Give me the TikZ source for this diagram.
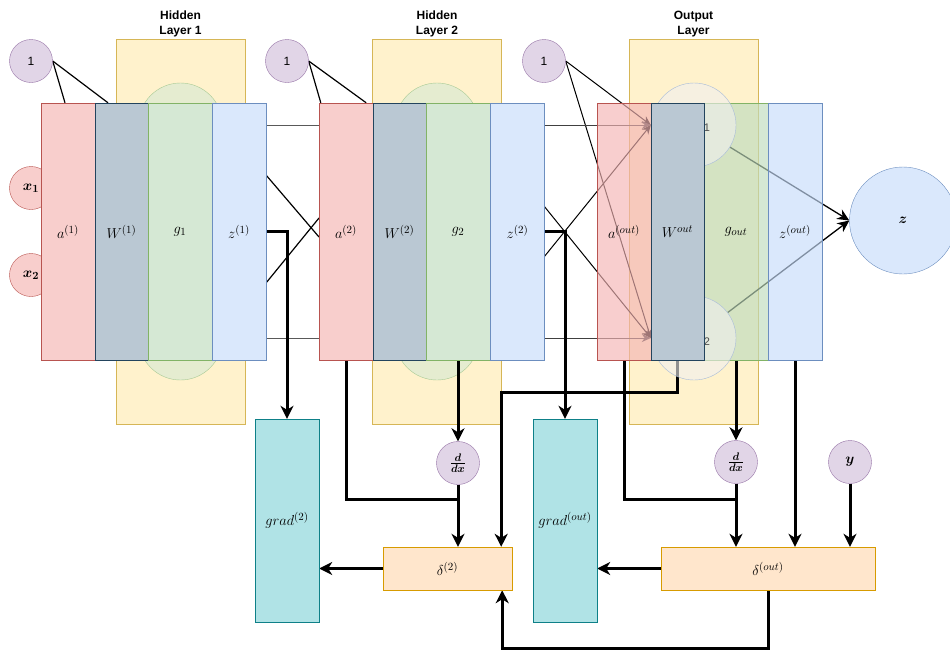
\documentclass[tikz,border=0pt]{standalone}
\usepackage{amsmath, amssymb}
\usepackage{fontspec}
\setmainfont{Liberation Sans}
\usetikzlibrary{positioning,arrows.meta}

\definecolor{redfill}{HTML}{F8CECC}\definecolor{redline}{HTML}{B85450}
\definecolor{wfill}{HTML}{BAC8D3}\definecolor{wline}{HTML}{23445D}
\definecolor{greenfill}{HTML}{D5E8D4}\definecolor{greenline}{HTML}{82B366}
\definecolor{bluefill}{HTML}{DAE8FC}\definecolor{blueline}{HTML}{6C8EBF}
\definecolor{yellowfill}{HTML}{FFF2CC}\definecolor{yellowline}{HTML}{D6B656}
\definecolor{purplefill}{HTML}{E1D5E7}\definecolor{purpleline}{HTML}{9673A6}
\definecolor{tealfill}{HTML}{B0E3E6}\definecolor{tealline}{HTML}{0E8088}
\definecolor{orangefill}{HTML}{FFE6CC}\definecolor{orangeline}{HTML}{D79B00}
% deeper tints, so that the see-through boxes look the same over white
\definecolor{redsee}{HTML}{F4B4B4}
\definecolor{greensee}{HTML}{BEDCBD}
\definecolor{bluesee}{HTML}{C6DCFA}

\newcommand{\lblfont}{\fontsize{15}{17}\selectfont}
\newcommand{\unitfont}{\fontsize{12}{14}\selectfont}
\newcommand{\titlefont}{\fontsize{12}{14.5}\selectfont\bfseries}

\pgfdeclarelayer{background}
\pgfdeclarelayer{wires}
\pgfsetlayers{background,wires,main}

\tikzset{
  layerbg/.style={draw=yellowline, fill=yellowfill, minimum width=129, minimum height=385, inner sep=0},
  hunit/.style={circle, draw=greenline!70, fill=greenfill, fill opacity=0.6, minimum size=84, inner sep=0},
  ounit/.style={circle, draw=blueline!60, fill=gray!12, fill opacity=0.6, minimum size=84, inner sep=0},
  colbox/.style={draw, minimum height=257, inner sep=0, font=\lblfont},
  actbox/.style={colbox, draw=redline, fill=redfill, minimum width=54},
  wbox/.style={colbox, draw=wline, fill=wfill, minimum width=53},
  gbox/.style={colbox, draw=greenline, fill=greenfill, minimum width=64},
  zbox/.style={colbox, draw=blueline, fill=bluefill, minimum width=54},
  seethru/.style={fill opacity=0.65, text opacity=1},
  gradbox/.style={draw=tealline, fill=tealfill, minimum width=64, minimum height=203, inner sep=0, font=\lblfont},
  deltabox/.style={draw=orangeline, fill=orangefill, minimum height=43, inner sep=0, font=\lblfont},
  bias/.style={circle, draw=purpleline, fill=purplefill, minimum size=43, inner sep=0, font=\unitfont},
  inunit/.style={circle, draw=redline, fill=redfill, minimum size=43, inner sep=0, font=\lblfont},
  outunit/.style={circle, draw=blueline, fill=bluefill, minimum size=107, inner sep=0, font=\lblfont},
  unitlabel/.style={font=\fontsize{11}{13}\selectfont, text=black!70, inner sep=0},
  layertitle/.style={align=center, font=\titlefont},
  flowarrow/.style={-{Stealth[length=13pt, width=13pt, inset=4pt]}, line width=3pt},
  flowline/.style={line width=3pt},
  wire/.style={draw=black!65, line width=1pt},
  crosswire/.style={line width=1.2pt},
  thinarrow/.style={-{Stealth[length=9pt, width=8pt]}, line width=1pt},
  outarrow/.style={-{Stealth[length=12pt, width=11pt]}, line width=1.3pt}
}

\begin{document}
\begin{tikzpicture}[x=1pt, y=-1pt]
  \useasboundingbox (0,0) rectangle (950,649);

  % layer backgrounds and hidden units
  \begin{pgfonlayer}{background}
    \node[layerbg] (bg1) at (180.5,231.5) {};
    \node[layerbg] (bg2) at (437,231.5) {};
    \node[layerbg] (bgo) at (693.5,231.5) {};
    \node[hunit] (h11) at (180.5,125) {};
    \node[hunit] (h12) at (180.5,338) {};
    \node[hunit] (h21) at (437,125) {};
    \node[hunit] (h22) at (437,338) {};
  \end{pgfonlayer}

  \node[layertitle] (t1) at (180.5,24) {Hidden\\Layer 1};
  \node[layertitle] (t2) at (437,24) {Hidden\\Layer 2};
  \node[layertitle] (to) at (693.5,24) {Output\\Layer};

  % inputs
  \node[bias] (b1) at (31,61) {1};
  \node[inunit] (x1) at (31,188) {$\boldsymbol{x_1}$};
  \node[inunit] (x2) at (31,275) {$\boldsymbol{x_2}$};

  % hidden layer 1
  \node[actbox] (a1) at (68,231.5) {$a^{(1)}$};
  \node[wbox] (w1) at (121.5,231.5) {$W^{(1)}$};
  \node[gbox] (g1) at (180,231.5) {$g_1$};
  \node[zbox] (z1) at (239,231.5) {$z^{(1)}$};

  % hidden layer 2
  \node[bias] (b2) at (287,61) {1};
  \node[actbox] (a2) at (346,231.5) {$a^{(2)}$};
  \node[wbox] (w2) at (399.5,231.5) {$W^{(2)}$};
  \node[gbox] (g2) at (458,231.5) {$g_2$};
  \node[zbox] (z2) at (517.5,231.5) {$z^{(2)}$};

  % output layer
  \node[bias] (b3) at (544,61) {1};
  \node[actbox, fill=redsee, seethru] (ao) at (624,231.5) {$a^{(out)}$};
  \node[gbox, fill=greensee, seethru] (go) at (736,231.5) {$g_{out}$};
  \node[zbox, fill=bluesee, seethru] (zo) at (795,231.5) {$z^{(out)}$};
  \node[ounit] (o1) at (694,125) {};
  \node[ounit] (o2) at (694,338) {};
  \node[unitlabel] (o1n) at (707,128) {1};
  \node[unitlabel] (o2n) at (707,342) {2};
  \node[wbox] (wo) at (677.5,231.5) {$W^{out}$};
  \node[outunit] (zout) at (903,220.5) {$\boldsymbol{z}$};

  % backward part
  \node[gradbox] (gr2) at (287,520.5) {$grad^{(2)}$};
  \node[gradbox] (gro) at (565,520.5) {$grad^{(out)}$};
  \node[deltabox, minimum width=129] (d2) at (447.5,568.5) {$\delta^{(2)}$};
  \node[deltabox, minimum width=214] (dout) at (768,568.5) {$\delta^{(out)}$};
  \node[bias, font=\lblfont] (dd2) at (458,463) {$\boldsymbol{\frac{d}{dx}}$};
  \node[bias, font=\lblfont] (ddo) at (736,462) {$\boldsymbol{\frac{d}{dx}}$};
  \node[bias, font=\lblfont] (yv) at (850,462) {$\boldsymbol{y}$};

  \coordinate (z1hi) at (266,175);
  \coordinate (z1lo) at (266,283);
  \coordinate (a2lo) at (319,237);
  \coordinate (a2hi) at (319,218);
  \coordinate (z2hi) at (544,206);
  \coordinate (z2lo) at (544,257);
  \coordinate (m2) at (458,499);
  \coordinate (mo) at (736,499);

  \begin{pgfonlayer}{wires}
    % bias lines
    \draw[crosswire] (b1.east) -- ([xshift=-3]a1.north);
    \draw[crosswire] (b1.east) -- ([xshift=-13.5]w1.north);
    \draw[crosswire] (b2.east) -- ([xshift=2]a2.north west);
    \draw[crosswire] (b2.east) -- ([xshift=-7]a2.north east);
    \draw[thinarrow] (b3.east) -- (wo.west |- o1);
    \draw[thinarrow] (b3.east) -- (wo.west |- o2);

    % layer 1 to layer 2
    \draw[wire] (z1.east |- h11) -- (a2.west |- h21);
    \draw[wire] (z1.east |- h12) -- (a2.west |- h22);
    \draw[crosswire] (z1hi) -- (a2lo);
    \draw[crosswire] (z1lo) -- (a2hi);
    \draw[flowarrow] (z1.east) -| (gr2.north);

    % layer 2 to output
    \draw[thinarrow, draw=black!75] (z2.east |- h21) -- (wo.west |- o1);
    \draw[thinarrow, draw=black!75] (z2.east |- h22) -- (wo.west |- o2);
    \draw[thinarrow] (z2hi) -- (wo.west |- o2);
    \draw[thinarrow] (z2lo) -- (wo.west |- o1);
    \draw[flowarrow] (z2.east) -| (gro.north);
    \draw[outarrow] (o1) -- (zout.west);
    \draw[outarrow] (o2) -- (zout.west);

    % backward pass
    \draw[flowarrow] (g2.south) -- (dd2.north);
    \draw[flowarrow] (dd2.south) -- (dd2.south |- d2.north);
    \draw[flowline] (a2.south) |- (m2);
    \draw[flowarrow] (wo.south) -- ++(0,32) -| ([xshift=-11]d2.north east);
    \draw[flowarrow] (go.south) -- (ddo.north);
    \draw[flowarrow] (ddo.south) -- (ddo.south |- dout.north);
    \draw[flowline] (ao.south) |- (mo);
    \draw[flowarrow] (zo.south) -- (zo.south |- dout.north);
    \draw[flowarrow] (yv.south) -- (yv.south |- dout.north);
    \draw[flowarrow] (dout.south) -- ++(0,58) -| ([xshift=-10]d2.south east);
    \draw[flowarrow] (d2.west) -- (d2.west -| gr2.east);
    \draw[flowarrow] (dout.west) -- (dout.west -| gro.east);
  \end{pgfonlayer}
\end{tikzpicture}
\end{document}
